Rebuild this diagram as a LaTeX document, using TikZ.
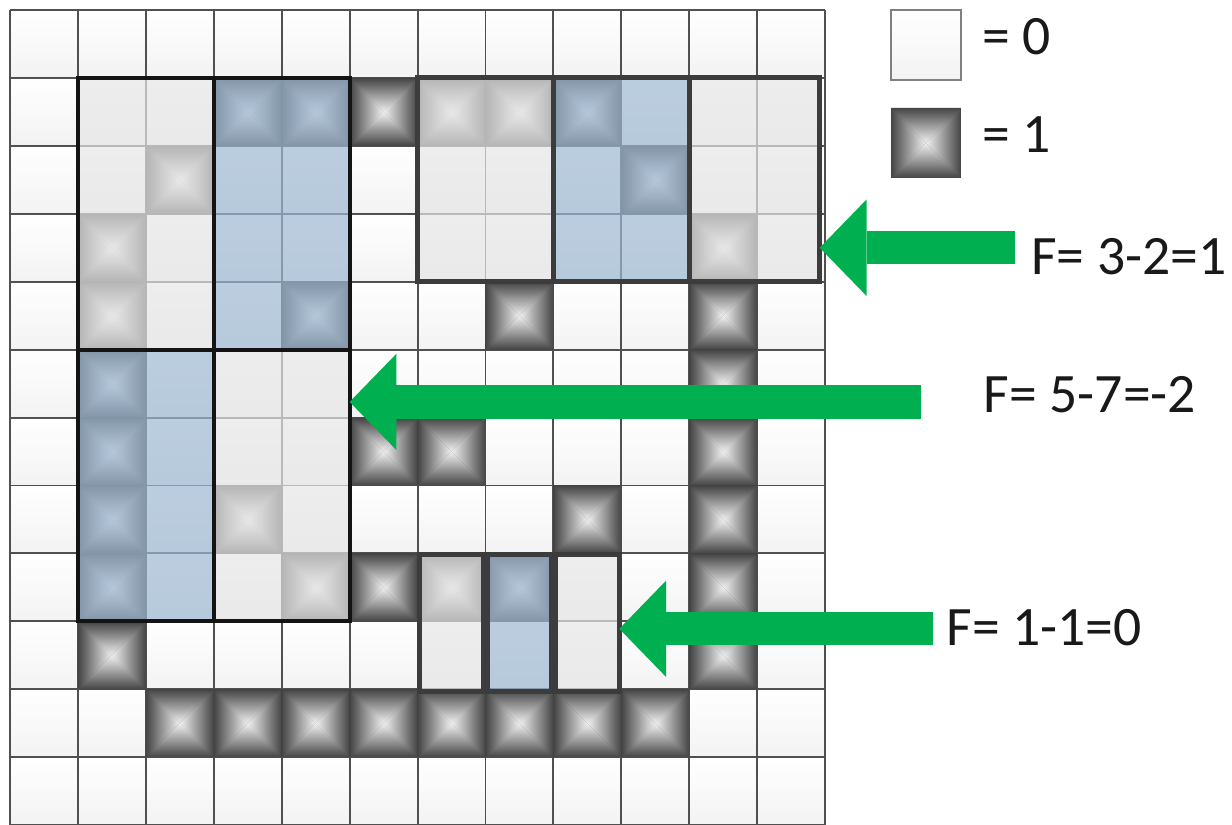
\documentclass[tikz,border=0pt]{standalone}
\usepackage{fontspec}
\setmainfont{Carlito}
\usetikzlibrary{arrows.meta}
\definecolor{gridLine}{RGB}{80,80,80}
\definecolor{cellBot}{RGB}{243,243,243}
\definecolor{pyrEdge}{RGB}{68,68,68}
\definecolor{pyrMid}{RGB}{240,240,240}
\definecolor{ovlGrey}{RGB}{230,230,230}
\definecolor{ovlBlue}{RGB}{158,184,210}
\definecolor{featBlack}{RGB}{20,20,20}
\definecolor{featGrey}{RGB}{60,60,60}
\definecolor{arrowGreen}{RGB}{0,176,80}
\tikzset{
  cell/.style={top color=white, bottom color=cellBot},
  onecell/.pic={
    \fill[pyrEdge] (0,0) rectangle (1,1);
    \shade[top color=pyrEdge, bottom color=pyrMid] (0,1) -- (1,1) -- (0.5,0.5) -- cycle;
    \shade[top color=pyrMid, bottom color=pyrEdge] (0,0) -- (1,0) -- (0.5,0.5) -- cycle;
    \shade[left color=pyrEdge, right color=pyrMid] (0,0) -- (0,1) -- (0.5,0.5) -- cycle;
    \shade[left color=pyrMid, right color=pyrEdge] (1,0) -- (1,1) -- (0.5,0.5) -- cycle;
  },
  lightpart/.style={
    rectangle, fill=ovlGrey, fill opacity=0.7,
    inner sep=0pt, outer sep=0pt
  },
  bluepart/.style={
    rectangle, fill=ovlBlue, fill opacity=0.7,
    inner sep=0pt, outer sep=0pt
  },
  edgeA/.style={draw=featBlack, line width=1.6pt},
  edgeC/.style={draw=featGrey, line width=2.1pt},
  bigarrow/.style={
    line width=0.49cm, color=arrowGreen,
    -{Triangle[length=0.69cm,width=1.42cm,line width=0pt]}
  },
  flabel/.style={
    anchor=base west, inner sep=0pt, text=black!90,
    font=\fontsize{23.3}{28}\selectfont
  }
}

\begin{document}
\begin{tikzpicture}

  \useasboundingbox (-0.147,0.015) rectangle (17.99,12.147);

  % ── Cells and grid ───────────────────────────────────────────────────────
  \foreach \c in {0,...,11}{
    \foreach \r in {0,...,11}{
      \shade[cell] (\c,\r) rectangle ++(1,1);
    }
  }
  \draw[gridLine, line width=0.8pt] (0,0) grid (12,12);

  % ── Cells with value 1 (column/row from top) ─────────────────────────────
  \foreach \c/\r in {3/1,4/1,5/1,6/1,7/1,8/1, 2/2,9/2, 1/3,10/3,
                     1/4,4/4,7/4,10/4, 1/5,10/5, 1/6,5/6,6/6,10/6,
                     1/7,3/7,8/7,10/7, 1/8,4/8,5/8,6/8,7/8,10/8, 1/9,10/9,
                     2/10,3/10,4/10,5/10,6/10,7/10,8/10,9/10}{
    \pic at (\c,{11-\r}) {onecell};
  }

  % ── Feature overlays ──────────────────────────────────────────────────────
  \node[lightpart, minimum width=2cm, minimum height=4cm] (fAl) at (2,9) {};
  \node[bluepart,  minimum width=2cm, minimum height=4cm] (fAr) at (4,9) {};
  \node[bluepart,  minimum width=2cm, minimum height=4cm] (fBl) at (2,5) {};
  \node[lightpart, minimum width=2cm, minimum height=4cm] (fBr) at (4,5) {};

  \node[lightpart, minimum width=2cm,    minimum height=3cm] (fC1) at (7,9.5) {};
  \node[bluepart,  minimum width=2cm,    minimum height=3cm] (fC2) at (9,9.5) {};
  \node[lightpart, minimum width=1.92cm, minimum height=3cm] (fC3) at (10.96,9.5) {};

  \node[lightpart, minimum width=0.94cm, minimum height=2.02cm] (fD1) at (6.5,2.98) {};
  \node[bluepart,  minimum width=0.94cm, minimum height=2.02cm] (fD2) at (7.5,2.98) {};
  \node[lightpart, minimum width=0.94cm, minimum height=2.02cm] (fD3) at (8.5,2.98) {};

  % ── Feature borders ──────────────────────────────────────────────────────
  \foreach \n in {fAl,fAr,fBl,fBr}{
    \draw[edgeA] (\n.south west) rectangle (\n.north east);
  }
  \foreach \n in {fC1,fC2,fC3,fD1,fD2,fD3}{
    \draw[edgeC] (\n.south west) rectangle (\n.north east);
  }

  % ── Legend ───────────────────────────────────────────────────────────────
  \node[cell, draw=gray, line width=0.6pt, minimum size=1.03cm, inner sep=0pt]
    (sq0) at (13.485,11.485) {};
  \pic[scale=1.03] at (12.97,9.53) {onecell};
  \node[flabel] (lbl0) at (14.31,11.34) {= 0};
  \node[flabel] (lbl1) at (14.31,9.895) {= 1};

  % ── Feature values ───────────────────────────────────────────────────────
  \node[flabel] (lblC)  at (15.03,8.10) {F= 3-2=1};
  \node[flabel] (lblAB) at (14.33,6.08) {F= 5-7=-2};
  \node[flabel] (lblD)  at (13.78,2.65) {F= 1-1=0};

  \coordinate (tC)  at (14.80,8.50);
  \coordinate (tAB) at (13.41,6.23);
  \coordinate (tD)  at (13.59,2.89);
  \draw[bigarrow] (tC)  -- (fC3.east |- tC);
  \draw[bigarrow] (tAB) -- (fBr.east |- tAB);
  \draw[bigarrow] (tD)  -- (fD3.east |- tD);

\end{tikzpicture}
\end{document}
